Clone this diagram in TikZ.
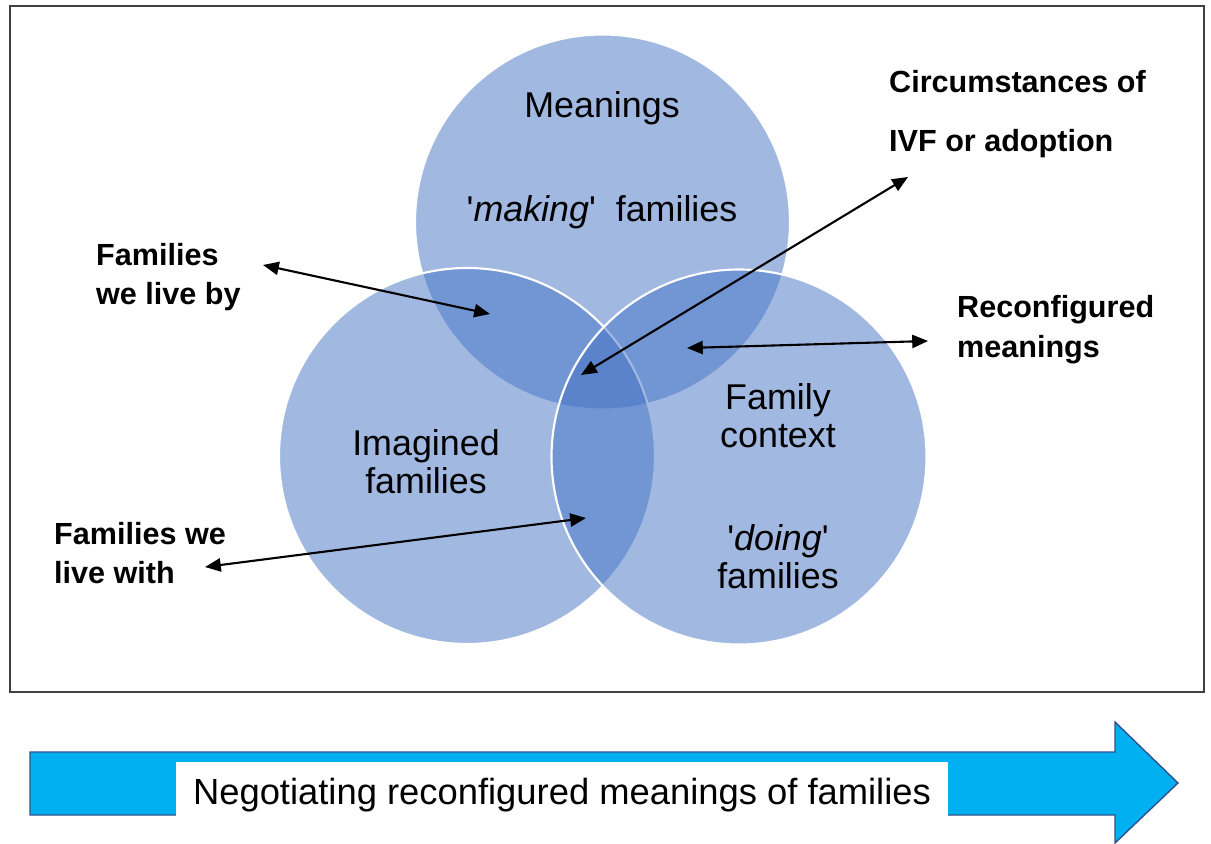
\documentclass[tikz,border=0pt]{standalone}
\usepackage{fontspec}
\setmainfont{Liberation Sans}
\usetikzlibrary{arrows.meta}
\definecolor{venncol}{HTML}{4472C4}
\definecolor{skyfill}{HTML}{00B0F0}
\definecolor{skyline}{HTML}{2F528F}
\definecolor{framecol}{HTML}{404040}
\tikzset{venn/.style={fill=venncol,fill opacity=.5,draw=white,line width=1.2pt},
  intext/.style={align=center,font=\fontsize{20.4}{21.8}\selectfont},
  tag/.style={anchor=west,align=left,font=\fontsize{17.4}{22.6}\selectfont\bfseries},
  link/.style={line width=1.2pt,{Triangle[length=9pt,width=7.5pt]}-{Triangle[length=9pt,width=7.5pt]}},
  bigarrow/.style={fill=skyfill,draw=skyline,line width=.8pt},
  banner/.style={fill=white,minimum width=15.44cm,minimum height=1.32cm,font=\fontsize{20.7}{24}\selectfont}}
\begin{document}
\begin{tikzpicture}[x=0.02cm,y=-0.02cm]
\useasboundingbox (0,0) rectangle (1211,844);
\draw[framecol,line width=.6pt] (10,6) rectangle (1204,692);
% the three sets
\path[venn] (602.5,222) circle[radius=187.5];
\path[venn] (467,456) circle[radius=188];
\path[venn] (739,457) circle[radius=187.5];
\node[intext] (mean) at (602,108) {Meanings};
\node[intext] (make) at (602,212) {\textquotesingle\textit{making}\textquotesingle~ families};
\node[intext] (imag) at (426,462) {Imagined\\families};
\node[intext] (ctx) at (778,416) {Family\\context};
\node[intext] (doing) at (778,557) {\textquotesingle\textit{doing}\textquotesingle\\families};
% side labels
\node[tag,font=\fontsize{17.4}{33.5}\selectfont\bfseries] (ivf) at (883,114) {Circumstances of\\IVF or adoption};
\node[tag] (liveby) at (90,277) {Families\\we live by};
\node[tag] (reconf) at (951,330) {Reconfigured\\meanings};
\node[tag] (livewith) at (48,553) {Families we\\live with};
% arrow ends
\coordinate (lbA) at (263,265);
\coordinate (lbB) at (490,314);
\coordinate (ivA) at (581,375);
\coordinate (ivB) at (908,177);
\coordinate (rcA) at (687,348);
\coordinate (rcB) at (928,341);
\coordinate (lwA) at (205,567);
\coordinate (lwB) at (586,518);
\draw[link] (lbA) -- (lbB);
\draw[link] (ivA) -- (ivB);
\draw[link] (rcA) -- (rcB);
\draw[link] (lwA) -- (lwB);
% bottom arrow
\draw[bigarrow] (30,752) -- (1115,752) -- (1115,722) -- (1178,783) -- (1115,843) -- (1115,815) -- (30,815) -- cycle;
\node[banner] (neg) at (562,795) {Negotiating reconfigured meanings of families};
\end{tikzpicture}
\end{document}
